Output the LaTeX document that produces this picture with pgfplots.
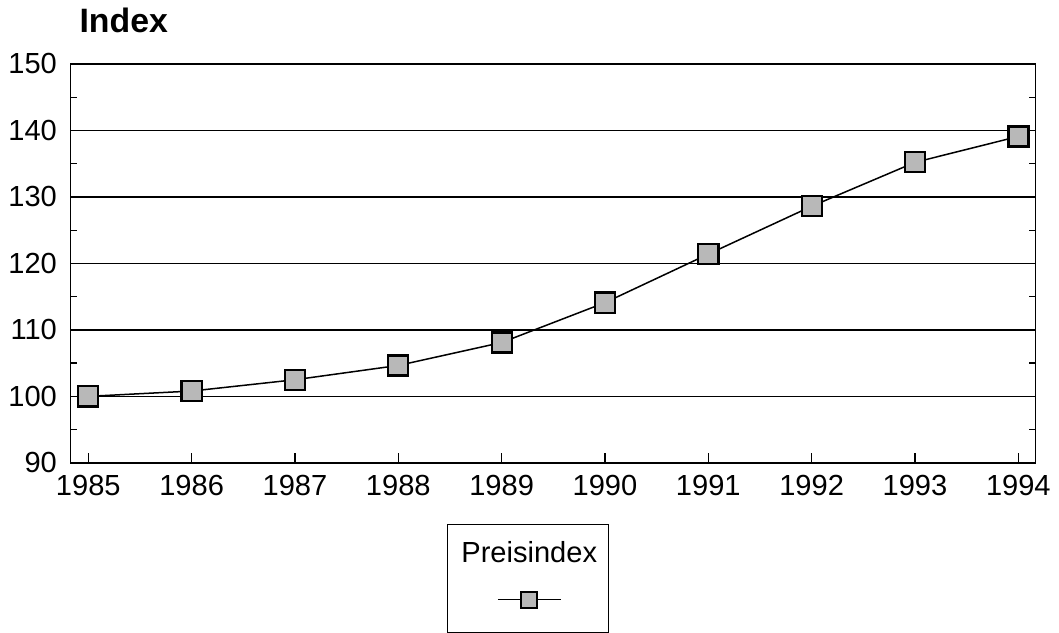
\documentclass[border=0pt]{standalone}
\usepackage{pgfplots}
\pgfplotsset{compat=1.18}
\usepackage{fontspec}
\setmainfont{Liberation Sans}
\begin{document}
\begin{tikzpicture}
\begin{axis}[
    scale only axis,
    width=385pt,
    height=159.2pt,
    xmin=1984.83, xmax=1994.165,
    ymin=90, ymax=150,
    xtick={1985,...,1994},
    ytick={90,100,...,150},
    minor y tick num=1,
    xtick pos=bottom,
    ytick pos=both,
    tick align=inside,
    major tick length=4pt,
    minor tick length=2.5pt,
    x tick label style={/pgf/number format/1000 sep={}, yshift=-1.5pt},
    /pgf/number format/assume math mode=true,
    tick label style={font=\fontsize{11.6}{13.5}\selectfont},
    yticklabel style={xshift=-2pt},
    ymajorgrids,
    grid style={black, line width=0.5pt},
    axis line style={black, line width=0.6pt},
    every tick/.style={black, line width=0.5pt},
    ylabel={\bfseries Index},
    ylabel style={rotate=-90, at={(axis description cs:0,1)}, anchor=base west,
        xshift=0pt, yshift=12.4pt, font=\fontsize{13.5}{15}\selectfont},
    legend style={at={(axis description cs:0.474,-0.153)}, anchor=north,
        draw=black, line width=0.5pt, inner sep=0pt, nodes={inner sep=0pt}},
    legend image code/.code={
        \path[draw=none, fill=none] (-32.5pt,-13pt) rectangle (30.5pt,30pt);
        \node[anchor=base, font=\fontsize{11.6}{13.5}\selectfont] at (0pt,15pt) {Preisindex};
        \draw[mark repeat=2, mark phase=2, #1, mark size=3.2pt]
            plot coordinates {(-12.5pt,0pt)(0pt,0pt)(12.5pt,0pt)};
    },
]
\addplot[black, line width=0.6pt, mark=square*, mark size=4pt,
    mark options={fill=black!28, draw=black, line width=0.9pt}]
    coordinates {(1985,100)(1986,100.8)(1987,102.5)(1988,104.65)(1989,108.1)
                 (1990,114.1)(1991,121.4)(1992,128.6)(1993,135.2)(1994,139.1)};
\addlegendentry{}
\end{axis}
\end{tikzpicture}
\end{document}
